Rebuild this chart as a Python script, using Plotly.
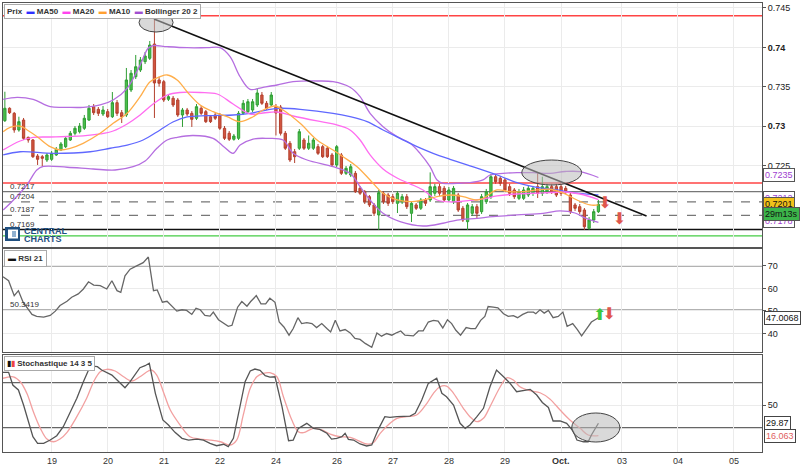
import plotly.graph_objects as go

# ---------------- DATA ----------------
# 2-hour candles, x = candle index
candle_open = [0.73071,0.73228,0.73164,0.72953,0.73079,0.72860,0.72826,0.72623,0.72614,0.72572,
 0.72581,0.72636,0.72699,0.72741,0.72826,0.72911,0.72931,0.72974,0.73079,0.73248,
 0.73215,0.73155,0.73185,0.73121,0.73299,0.73172,0.73143,0.73460,0.73628,0.73713,
 0.73819,0.73862,0.74043,0.73587,0.73565,0.73342,0.73355,0.73333,0.73143,0.73206,
 0.73164,0.73101,0.73228,0.73185,0.73121,0.73143,0.73143,0.72974,0.72911,0.72835,
 0.72847,0.73164,0.73185,0.73206,0.73270,0.73396,0.73291,0.73270,0.73248,0.73244,
 0.72911,0.72784,0.72677,0.72721,0.72826,0.72721,0.72721,0.72741,0.72741,0.72721,
 0.72636,0.72509,0.72636,0.72403,0.72382,0.72403,0.72213,0.72170,0.72107,0.72002,
 0.71875,0.72150,0.72128,0.72107,0.72023,0.72043,0.72107,0.71896,0.72002,0.71960,
 0.72065,0.72065,0.72150,0.72234,0.72213,0.72065,0.72043,0.72128,0.71960,0.71790,
 0.71896,0.71980,0.71917,0.72043,0.72107,0.72360,0.72340,0.72319,0.72234,0.72192,
 0.72086,0.72086,0.72128,0.72150,0.72234,0.72150,0.72170,0.72234,0.72234,0.72234,
 0.72213,0.72128,0.72002,0.71980,0.71938,0.71706,0.71811,0.71917]
candle_high = [0.73438,0.73240,0.73181,0.73121,0.73105,0.72868,0.72838,0.72648,0.72636,0.72661,
 0.72686,0.72737,0.72800,0.72876,0.72940,0.73003,0.73041,0.73143,0.73270,0.73282,
 0.73244,0.73257,0.73219,0.73434,0.73333,0.73206,0.73739,0.73713,0.73904,0.73878,
 0.73942,0.74081,0.74373,0.73628,0.73587,0.73409,0.73384,0.73358,0.73232,0.73232,
 0.73193,0.73282,0.73257,0.73206,0.73143,0.73168,0.73168,0.73003,0.72940,0.72902,
 0.73193,0.73333,0.73346,0.73346,0.73485,0.73434,0.73320,0.73434,0.73282,0.73270,
 0.72940,0.72813,0.72712,0.72965,0.72851,0.72883,0.72851,0.72775,0.72762,0.72750,
 0.72661,0.72762,0.72661,0.72496,0.72521,0.72433,0.72243,0.72192,0.72128,0.72027,
 0.72192,0.72179,0.72154,0.72141,0.72179,0.72141,0.72141,0.72052,0.72027,0.72090,
 0.72090,0.72415,0.72270,0.72270,0.72243,0.72230,0.72243,0.72154,0.71989,0.72027,
 0.72014,0.72014,0.72141,0.72205,0.72395,0.72395,0.72369,0.72344,0.72270,0.72217,
 0.72205,0.72230,0.72243,0.72243,0.72420,0.72360,0.72270,0.72270,0.72270,0.72270,
 0.72243,0.72166,0.72027,0.72014,0.71963,0.71849,0.71951,0.72065]
candle_low = [0.73054,0.73155,0.72918,0.72931,0.72826,0.72792,0.72597,0.72509,0.72487,0.72547,
 0.72560,0.72623,0.72686,0.72724,0.72813,0.72883,0.72909,0.72953,0.73067,0.73143,
 0.73130,0.73130,0.73105,0.73105,0.73130,0.73041,0.73118,0.73434,0.73599,0.73688,
 0.73789,0.73840,0.73105,0.73502,0.73308,0.73320,0.73244,0.73118,0.72991,0.73130,
 0.72991,0.73079,0.73143,0.73041,0.73041,0.73079,0.72953,0.72826,0.72813,0.72817,
 0.72826,0.73143,0.73168,0.73181,0.73244,0.73270,0.73206,0.73244,0.72883,0.72883,
 0.72699,0.72547,0.72534,0.72699,0.72699,0.72699,0.72699,0.72636,0.72597,0.72597,
 0.72483,0.72483,0.72382,0.72382,0.72357,0.72154,0.72128,0.72014,0.71976,0.71862,
 0.71685,0.72014,0.71989,0.72014,0.71900,0.72014,0.71951,0.71786,0.71938,0.71938,
 0.71989,0.72040,0.72116,0.72116,0.72040,0.72040,0.72014,0.71913,0.71786,0.71685,
 0.71862,0.71837,0.71888,0.72014,0.72078,0.72270,0.72243,0.72166,0.72116,0.72078,
 0.72065,0.72065,0.72103,0.72116,0.72090,0.72116,0.72141,0.72141,0.72103,0.72116,
 0.72141,0.71888,0.71926,0.71888,0.71685,0.71685,0.71773,0.71900]
candle_close = [0.73228,0.73172,0.72953,0.73058,0.72847,0.72826,0.72614,0.72581,0.72594,0.72636,
 0.72657,0.72708,0.72775,0.72847,0.72911,0.72974,0.73003,0.73101,0.73228,0.73172,
 0.73164,0.73206,0.73121,0.73299,0.73164,0.73121,0.73587,0.73672,0.73755,0.73840,
 0.73891,0.74030,0.73549,0.73545,0.73333,0.73375,0.73270,0.73143,0.73206,0.73155,
 0.73088,0.73248,0.73164,0.73058,0.73058,0.73101,0.72974,0.72847,0.72835,0.72876,
 0.73164,0.73291,0.73311,0.73311,0.73422,0.73291,0.73228,0.73396,0.73168,0.72911,
 0.72721,0.72572,0.72614,0.72931,0.72721,0.72784,0.72826,0.72657,0.72614,0.72614,
 0.72509,0.72741,0.72403,0.72467,0.72487,0.72170,0.72150,0.72043,0.72002,0.71896,
 0.72158,0.72043,0.72023,0.72043,0.72150,0.72107,0.71980,0.72023,0.71960,0.72065,
 0.72023,0.72234,0.72234,0.72150,0.72065,0.72192,0.72213,0.71938,0.71811,0.72002,
 0.71980,0.71896,0.72107,0.72170,0.72360,0.72297,0.72277,0.72192,0.72150,0.72107,
 0.72170,0.72192,0.72213,0.72213,0.72150,0.72234,0.72234,0.72170,0.72128,0.72150,
 0.72170,0.71917,0.71960,0.71917,0.71726,0.71811,0.71917,0.72010]
candle_x = list(range(len(candle_open)))

ma50_x = [-0.36,3.27,10.33,18.25,22.52,26.16,29.58,33.22,35.95,38.99,43.27,48.83,52.47,56.75,58.89,
          63.17,70.22,73.86,77.50,80.92,84.56,88.19,91.62,95.25,98.89,102.31,105.95,109.58,113.00,118.14,121.99,127]
ma50_y = [0.72636,0.72677,0.72657,0.72677,0.72721,0.72762,0.72826,0.72953,0.73054,0.73118,0.73134,0.73143,0.73164,0.73215,0.73228,
          0.73215,0.73164,0.73121,0.73058,0.72953,0.72847,0.72741,0.72657,0.72581,0.72509,0.72445,0.72369,0.72284,0.72234,0.72192,0.72154,0.72128]

ma20_x = [-0.36,3.27,6.05,9.69,13.33,16.75,20.39,23.17,26.16,28.94,31.72,34.72,37.49,41.78,45.41,48.83,52.47,55.25,58.24,61.67,
          66.80,70.22,73.86,76.00,78.14,80.92,83.92,86.70,89.48,92.47,95.25,99.53,102.31,105.30,109.58,115.15,119.85,123.06,127]
ma20_y = [0.72699,0.72813,0.72858,0.72864,0.72870,0.72877,0.72902,0.72940,0.73029,0.73143,0.73282,0.73396,0.73428,0.73428,0.73409,0.73282,0.73155,0.73168,0.73181,0.73130,
          0.73067,0.73029,0.72953,0.72826,0.72636,0.72458,0.72344,0.72270,0.72192,0.72065,0.72040,0.72059,0.72078,0.72116,0.72141,0.72154,0.72166,0.72141,0.72071]

ma10_x = [-0.36,1.13,3.27,4.77,6.91,9.69,11.83,13.97,16.75,20.39,23.17,26.16,28.94,31.08,33.22,34.72,36.86,38.99,41.78,44.56,
          47.55,50.33,53.11,55.25,57.82,59.53,63.17,66.80,70.22,72.36,75.36,78.14,80.92,83.92,86.70,89.48,92.47,95.25,98.03,101.03,
          102.31,105.30,108.08,110.87,113.86,116.64,119.42,122.42,125.20,127]
ma10_y = [0.72931,0.72987,0.73003,0.72953,0.72868,0.72741,0.72699,0.72721,0.72784,0.72911,0.73037,0.73164,0.73375,0.73565,0.73628,0.73650,0.73587,0.73438,0.73270,0.73185,
          0.73121,0.73058,0.73121,0.73206,0.73257,0.73206,0.73037,0.72826,0.72699,0.72614,0.72487,0.72319,0.72150,0.72065,0.72043,0.72065,0.72107,0.72128,0.72107,0.72065,
          0.72086,0.72192,0.72170,0.72170,0.72192,0.72201,0.72154,0.72065,0.72002,0.72002]

boll_up_x = [-0.36,2.63,6.05,9.69,13.33,16.75,20.39,23.17,26.16,28.94,30.65,31.72,34.72,38.99,43.27,46.05,48.19,50.33,52.47,55.25,
             58.24,61.67,66.80,70.22,73.86,76.00,78.14,80.92,83.92,86.70,88.83,90.97,92.47,93.75,96.75,99.53,102.31,103.81,106.59,109.58,
             113.00,116.64,119.85,123.06,127]
boll_up_y = [0.73342,0.73367,0.73342,0.73248,0.73240,0.73240,0.73270,0.73333,0.73481,0.73777,0.73989,0.74022,0.74009,0.73996,0.73996,0.73996,0.73882,0.73628,0.73469,0.73494,
             0.73523,0.73565,0.73574,0.73565,0.73494,0.73375,0.73164,0.72995,0.72868,0.72784,0.72657,0.72487,0.72319,0.72277,0.72277,0.72284,0.72319,0.72382,0.72403,0.72411,
             0.72411,0.72403,0.72426,0.72424,0.72350]
boll_lo_x = [-0.36,1.84,4.71,6.84,8.26,13.33,18.89,23.59,27.44,30.01,32.58,34.72,36.86,40.28,44.56,46.91,48.83,50.33,53.11,56.11,
             59.53,61.67,64.66,70.22,73.86,76.00,78.14,80.92,84.56,89.48,93.75,96.75,101.03,104.45,109.58,115.15,118.78,121.99,124.13,127]
boll_lo_y = [0.71938,0.72065,0.72255,0.72445,0.72490,0.72480,0.72458,0.72445,0.72487,0.72560,0.72724,0.72826,0.72860,0.72883,0.72847,0.72737,0.72657,0.72762,0.72838,0.72847,
             0.72826,0.72657,0.72572,0.72487,0.72403,0.72234,0.72065,0.71896,0.71790,0.71735,0.71770,0.71811,0.71833,0.71853,0.71875,0.71896,0.71926,0.71900,0.71837,0.71780]

rsi_x = [-0.4,0.8,2.0,2.9,3.9,4.7,5.8,6.8,8.3,9.7, 10.8,11.8,13.3,14.3,15.7,16.8,17.9,19.0,20.4,21.8,
         22.9,24.0,24.8,25.7,26.8,28.2,29.6,30.7,31.8,32.6, 33.7,34.7,35.7,36.8,37.9,38.9,40.0,40.9,41.8,42.8,
         43.9,44.6,45.7,46.9,47.8,48.6,49.8,50.7,51.8,52.6, 53.8,54.8,55.8,56.7,57.8,58.7,59.7,60.8,61.7,62.7,
         63.5,64.6,65.7,66.7,67.8,68.9,69.7,70.7,71.7,72.8, 73.9,74.9,76.0,77.1,78.5,79.6,80.6,81.7,82.8,83.9,
         84.7,85.6,87.4,88.5,89.5,90.6,91.7,92.7,93.7,94.7, 95.6,96.5,97.5,98.7,99.7,100.7,101.8,102.7,103.4,104.5,
         105.5,106.7,107.7,108.8,109.7,110.8,111.9,113.1,113.6,114.5, 115.4,116.3,117.3,118.4,119.4,120.3,121.5,122.5,123.4,124.5,
         125.5,127]
rsi_v = [65.17,63.41,56.82,59.02,53.88,51.69,48.48,47.60,47.29,48.04, 49.93,52.43,54.32,56.08,57.57,59.77,62.97,61.52,61.22,59.77,
         63.41,59.02,58.27,65.61,68.55,70.00,71.45,73.95,59.02,59.33, 53.88,54.32,52.43,49.93,50.54,50.24,48.48,51.25,50.54,48.04,
         47.73,49.49,46.15,44.40,43.21,43.65,51.69,54.19,52.13,54.19, 56.82,53.18,53.18,55.64,53.88,45.10,42.90,39.26,42.20,47.03,
         44.40,44.84,44.40,42.64,44.40,42.20,40.71,45.85,41.15,41.76, 40.27,37.81,37.37,35.61,33.86,40.27,38.82,40.00,39.26,40.44,
         41.15,39.26,38.95,41.15,41.15,45.10,45.85,45.54,42.46,46.15, 44.40,41.45,39.26,42.64,42.20,42.20,45.85,47.60,51.99,51.69,
         51.42,48.79,47.60,47.91,47.03,48.48,49.49,49.49,48.79,50.54, 49.05,50.24,47.03,47.60,49.49,43.21,44.40,41.76,38.95,42.20,
         45.10,47.0068]

stk_x = [-0.4,0.8,1.7,2.9,4.0,5.0,6.0,7.0,8.3,9.7, 11.1,12.5,14.0,15.4,16.8,17.9,18.8,19.8,20.7,21.8,
         22.9,24.0,25.7,26.8,27.9,28.9,30.0,30.9,32.2,33.8, 35.0,36.4,37.9,39.3,41.1,42.5,43.9,45.3,46.8,47.8,
         48.9,50.0,51.4,52.5,53.5,54.6,55.7,56.7,57.8,59.3, 60.7,61.7,62.8,64.6,66.0,67.4,68.9,69.9,71.0,72.1,
         72.8,73.5,74.6,76.0,77.4,78.5,79.9,81.3,82.4,83.9, 85.3,86.7,87.8,89.2,90.6,92.4,93.5,94.5,96.0,97.4,
         98.5,99.5,101.0,102.4,103.8,105.2,106.7,108.1,109.5,110.9, 112.4,113.8,115.0,116.3,117.3,118.8,120.2,121.6,122.4,123.8,
         124.8,125.5,127]
stk_k = [86.5,86.5,72.4,66.9,50.2,33.5,14.9,7.6,7.6,11.2, 16.0,26.0,42.7,57.6,76.1,89.1,93.5,92.8,89.1,86.1,
         83.5,78.0,69.4,76.1,84.3,91.7,93.9,96.6,63.2,33.5, 27.9,19.8,13.1,11.2,12.3,11.2,7.6,4.9,6.5,3.8,
         13.1,42.7,76.1,88.0,90.2,88.8,82.8,81.3,81.6,48.3, 10.5,11.2,24.2,29.8,24.2,23.1,18.7,12.3,13.1,14.9,
         18.7,12.0,11.2,6.8,4.6,5.7,23.1,37.2,36.5,37.2, 37.9,37.9,40.9,55.7,74.3,79.9,63.2,59.4,50.2,29.8,
         24.2,27.9,37.2,46.5,70.5,89.1,81.6,74.3,65.0,66.1, 67.6,61.3,53.0,47.5,32.4,32.4,29.8,21.2,11.2,9.3,
         9.3,16.8,29.87]
std_x = [-0.4,1.8,3.3,4.7,6.1,7.6,9.0,10.4,11.8,13.3, 15.4,17.5,19.0,20.4,21.8,23.6,25.4,27.2,28.9,30.7,
         31.4,32.5,33.9,35.4,37.5,39.6,41.8,43.9,46.1,48.2, 49.6,51.0,52.5,53.9,55.3,56.7,58.2,59.6,61.4,62.8,
         63.9,66.0,67.8,69.6,71.7,73.9,75.6,77.4,78.8,80.3, 82.4,83.9,86.0,88.1,90.3,91.7,93.1,94.5,96.0,98.1,
         99.5,101.0,102.4,103.8,106.0,107.4,108.8,110.2,112.4,114.5, 116.6,118.8,120.9,123.1,124.8,127]
std_d = [79.9,81.6,76.1,63.2,42.7,24.2,12.3,9.3,12.3,19.8, 37.2,57.6,76.1,87.2,89.9,88.0,81.6,76.9,81.6,88.0,
         89.1,83.5,65.0,44.6,27.9,14.9,12.3,11.2,9.3,5.7, 11.2,39.0,68.7,81.6,85.4,86.1,81.6,59.4,33.5,20.5,
         19.4,24.2,22.4,17.9,14.9,14.2,10.5,6.8,8.2,18.7, 29.8,35.4,37.2,39.0,52.1,63.2,70.5,71.3,63.2,46.5,
         37.2,31.6,35.4,48.3,70.5,80.5,78.0,70.5,66.1,63.8, 57.0,44.6,33.5,24.2,16.8,16.063]

# x-axis labels (candle-index positions of each day)
day_tickvals = [10, 22, 34, 46, 58, 71, 83, 95, 107, 119, 132, 144, 156]
day_ticktext = ["19", "20", "21", "22", "24", "26", "27", "28", "29", "<b>Oct.</b>", "03", "04", "05"]

price_ticks = [0.745, 0.74, 0.735, 0.73, 0.725]
price_ticktext = ["0.745", "<b>0.74</b>", "0.735", "<b>0.73</b>", "0.725"]

# horizontal levels on price panel
level_values = [0.74402, 0.72281, 0.7217, 0.7204, 0.7187, 0.7169, 0.7161]
level_labels = ["", "", "0.7217", "0.7204", "0.7187", "0.7169", ""]
rsi_levels = [70, 50.3419]
stoch_levels = [75, 25]

# trend line
trend_x = [31.9, 137.3]
trend_y = [0.74360, 0.71862]

# signal arrows (centres)
down_arrow_x = [128.4, 131.5]
down_arrow_y = [0.72020, 0.71815]
rsi_up_x, rsi_up_y = [127.3], [47.8]
rsi_dn_x, rsi_dn_y = [129.3], [48.0]

# highlight ellipses (x0, x1, y0, y1)
ellipse_main = [(28.7, 36.0, 0.74195, 0.74436), (110.6, 123.4, 0.72255, 0.72572)]
ellipse_stoch = [(121.3, 131.6, 9.0, 41.3)]

last_labels_main = [("0.7235", 0.72378, "#a040d0", "white"),
                    ("0.7212", 0.72092, "#a040d0", "white"),
                    ("0.7178", 0.71800, "#a040d0", "white"),
                    ("0.7201", 0.72020, "#111111", "#f2c21b"),
                    ("29m13s", 0.71890, "#111111", "#3cb54a")]

# ---------------- FIGURE ----------------
FONT = "Liberation Sans, Arial, sans-serif"
fig = go.Figure()

line_w = 1.3
fig.add_trace(go.Scatter(x=boll_up_x, y=boll_up_y, mode="lines", line=dict(color="#b56ee0", width=line_w, shape="spline"), xaxis="x", yaxis="y"))
fig.add_trace(go.Scatter(x=boll_lo_x, y=boll_lo_y, mode="lines", line=dict(color="#b56ee0", width=line_w, shape="spline"), xaxis="x", yaxis="y"))
fig.add_trace(go.Scatter(x=ma50_x, y=ma50_y, mode="lines", line=dict(color="#6068ff", width=line_w, shape="spline"), xaxis="x", yaxis="y"))
fig.add_trace(go.Scatter(x=ma20_x, y=ma20_y, mode="lines", line=dict(color="#ff6cf0", width=line_w, shape="spline"), xaxis="x", yaxis="y"))
fig.add_trace(go.Scatter(x=ma10_x, y=ma10_y, mode="lines", line=dict(color="#ffae4a", width=line_w, shape="spline"), xaxis="x", yaxis="y"))

fig.add_trace(go.Candlestick(
    x=candle_x, open=candle_open, high=candle_high, low=candle_low, close=candle_close,
    increasing=dict(line=dict(color="#2f9e34", width=1), fillcolor="#4cc04c"),
    decreasing=dict(line=dict(color="#b4402e", width=1), fillcolor="#d2553f"),
    xaxis="x", yaxis="y"))

fig.add_trace(go.Scatter(x=trend_x, y=trend_y, mode="lines", line=dict(color="#111111", width=1.6), xaxis="x", yaxis="y"))

ARROW_FONT = "DejaVu Sans"
fig.add_trace(go.Scatter(x=down_arrow_x, y=down_arrow_y, mode="text", text=["⬇"] * len(down_arrow_x),
                         textposition="middle center", textfont=dict(family=ARROW_FONT, size=16, color="#e0564c"),
                         xaxis="x", yaxis="y"))

# RSI
fig.add_trace(go.Scatter(x=rsi_x, y=rsi_v, mode="lines", line=dict(color="#666666", width=1.3), xaxis="x2", yaxis="y2"))
fig.add_trace(go.Scatter(x=rsi_up_x, y=rsi_up_y, mode="text", text=["⬆"], textposition="middle center",
                         textfont=dict(family=ARROW_FONT, size=16, color="#3cc93c"), xaxis="x2", yaxis="y2"))
fig.add_trace(go.Scatter(x=rsi_dn_x, y=rsi_dn_y, mode="text", text=["⬇"], textposition="middle center",
                         textfont=dict(family=ARROW_FONT, size=16, color="#e0564c"), xaxis="x2", yaxis="y2"))

# Stochastic
fig.add_trace(go.Scatter(x=std_x, y=std_d, mode="lines", line=dict(color="#f2a0a0", width=1.3, shape="spline"), xaxis="x3", yaxis="y3"))
fig.add_trace(go.Scatter(x=stk_x, y=stk_k, mode="lines", line=dict(color="#555555", width=1.3), xaxis="x3", yaxis="y3"))

shapes = []
level_colors = ["#ff4444", "#ff4444", "#777777", "#777777", "#777777", "#111111", "#44cc44"]
level_dash = ["solid", "solid", "solid", "dash", "dash", "solid", "solid"]
level_width = [1.5, 1.5, 1.2, 1.3, 1.3, 1.4, 1.4]
for v, c, d, w in zip(level_values, level_colors, level_dash, level_width):
    shapes.append(dict(type="line", xref="x domain", yref="y", x0=0, x1=1, y0=v, y1=v,
                       line=dict(color=c, width=w, dash=d), layer="below"))
for v in rsi_levels:
    shapes.append(dict(type="line", xref="x2 domain", yref="y2", x0=0, x1=1, y0=v, y1=v,
                       line=dict(color="#666666", width=1.3), layer="below"))
for v in stoch_levels:
    shapes.append(dict(type="line", xref="x3 domain", yref="y3", x0=0, x1=1, y0=v, y1=v,
                       line=dict(color="#666666", width=1.3), layer="below"))
for (x0, x1, y0, y1) in ellipse_main:
    shapes.append(dict(type="circle", xref="x", yref="y", x0=x0, x1=x1, y0=y0, y1=y1,
                       fillcolor="rgba(185,185,185,0.55)", line=dict(color="#444444", width=1), layer="above"))
for (x0, x1, y0, y1) in ellipse_stoch:
    shapes.append(dict(type="circle", xref="x3", yref="y3", x0=x0, x1=x1, y0=y0, y1=y1,
                       fillcolor="rgba(185,185,185,0.55)", line=dict(color="#444444", width=1), layer="above"))
# logo icon
shapes.append(dict(type="rect", xref="paper", yref="paper", x0=0.0026, x1=0.0224, y0=0.4699, y1=0.5011,
                   fillcolor="#1f4f80", line=dict(width=0)))
shapes.append(dict(type="rect", xref="paper", yref="paper", x0=0.0066, x1=0.0198, y0=0.4755, y1=0.4955,
                   fillcolor="white", line=dict(width=0)))
shapes.append(dict(type="rect", xref="paper", yref="paper", x0=0.0119, x1=0.0171, y0=0.4788, y1=0.4922,
                   fillcolor="#8fb0d0", line=dict(width=0)))

ann = []
for v, t in zip(level_values, level_labels):
    if t:
        ann.append(dict(text=t, xref="paper", yref="y", x=0.006, y=v, xanchor="left", yanchor="bottom",
                        showarrow=False, font=dict(size=8, color="#333333", family=FONT), yshift=-1))
ann.append(dict(text="50.3419", xref="paper", yref="y2", x=0.006, y=rsi_levels[1], xanchor="left", yanchor="bottom",
                showarrow=False, font=dict(size=8, color="#333333", family=FONT), yshift=-1))

legend_main = ("<b>Prix</b>  <span style='color:#3030ff'>▬</span> <b>MA50</b>  "
               "<span style='color:#ff44ee'>▬</span> <b>MA20</b>  "
               "<span style='color:#ffa030'>▬</span> <b>MA10</b>  "
               "<span style='color:#a050d0'>▬</span> <b>Bollinger 20 2</b>")
ann.append(dict(text=legend_main, xref="paper", yref="paper", x=0.0, y=1.0, xanchor="left", yanchor="top",
                xshift=1, yshift=-1,
                showarrow=False, bgcolor="white", bordercolor="#aaaaaa", borderwidth=1, borderpad=2,
                font=dict(size=8, color="#333333", family=FONT)))
ann.append(dict(text="<span style='color:#111'>▬</span> <b>RSI 21</b>", xref="paper", yref="paper", x=0.0, y=0.4521,
                xanchor="left", yanchor="top", xshift=1, yshift=-1, showarrow=False, bgcolor="white", bordercolor="#aaaaaa",
                borderwidth=1, borderpad=3, font=dict(size=8, color="#333333", family=FONT)))
ann.append(dict(text="<span style='color:#111'>▮</span><span style='color:#e44'>▮</span> <b>Stochastique 14 3 5</b>",
                xref="paper", yref="paper", x=0.0, y=0.216, xanchor="left", yanchor="top", xshift=1, yshift=-1,
                showarrow=False, bgcolor="white", bordercolor="#aaaaaa", borderwidth=1, borderpad=2,
                font=dict(size=8, color="#333333", family=FONT)))
ann.append(dict(text="<b>CENTRAL</b>", xref="paper", yref="paper", x=0.025, y=0.4922,
                xanchor="left", yanchor="middle", showarrow=False,
                font=dict(size=9, color="#1f4f80", family=FONT)))
ann.append(dict(text="<b>CHARTS</b>", xref="paper", yref="paper", x=0.025, y=0.4755,
                xanchor="left", yanchor="middle", showarrow=False,
                font=dict(size=9, color="#1f4f80", family=FONT)))

for t, v, fc, bg in last_labels_main:
    ann.append(dict(text=t, xref="paper", yref="y", x=1.0, y=v, xanchor="left", yanchor="middle", xshift=1,
                    showarrow=False, bgcolor=bg, bordercolor="#555555", borderwidth=1, borderpad=1,
                    font=dict(size=9, color=fc, family=FONT)))
ann.append(dict(text="47.0068", xref="paper", yref="y2", x=1.0, y=rsi_v[-1], xanchor="left", yanchor="middle", xshift=2,
                showarrow=False, bgcolor="white", bordercolor="#444444", borderwidth=1, borderpad=1,
                font=dict(size=9, color="#111111", family=FONT)))
ann.append(dict(text="29.87", xref="paper", yref="y3", x=1.0, y=stk_k[-1], xanchor="left", yanchor="middle", xshift=2,
                showarrow=False, bgcolor="white", bordercolor="#444444", borderwidth=1, borderpad=1,
                font=dict(size=9, color="#111111", family=FONT)))
ann.append(dict(text="16.063", xref="paper", yref="y3", x=1.0, y=std_d[-1], xanchor="left", yanchor="middle", xshift=2,
                showarrow=False, bgcolor="white", bordercolor="#444444", borderwidth=1, borderpad=1,
                font=dict(size=9, color="#e06060", family=FONT)))
# bottom day labels
for tv, tt in zip(day_tickvals, day_ticktext):
    ann.append(dict(text=tt, xref="x3", yref="paper", x=tv, y=0, xanchor="center", yanchor="top", yshift=-2,
                    showarrow=False, font=dict(size=9, color="#333333", family=FONT)))

xcommon = dict(range=[-0.4, 162], tickvals=day_tickvals, ticktext=day_ticktext, showgrid=True,
               gridcolor="#ebebeb", gridwidth=1, zeroline=False, showline=True, mirror=True,
               linecolor="#555555", linewidth=1, ticks="", showticklabels=False,
               tickfont=dict(size=9, color="#333333", family=FONT))
ycommon = dict(side="right", showgrid=True, gridcolor="#ebebeb", zeroline=False, showline=True, mirror=True,
               linecolor="#555555", linewidth=1, ticks="outside", ticklen=3, tickcolor="#555555",
               tickfont=dict(size=9, color="#222222", family=FONT))

fig.update_layout(
    width=806, height=467, margin=dict(l=3, r=44, t=3, b=15),
    paper_bgcolor="white", plot_bgcolor="white", showlegend=False, template="none",
    xaxis=dict(xcommon, anchor="y", domain=[0, 1], rangeslider=dict(visible=False)),
    xaxis2=dict(xcommon, anchor="y2", domain=[0, 1]),
    xaxis3=dict(xcommon, anchor="y3", domain=[0, 1]),
    yaxis=dict(ycommon, anchor="x", domain=[0.4566, 1.0], range=[0.71469, 0.74563],
               tickvals=price_ticks, ticktext=price_ticktext),
    yaxis2=dict(ycommon, anchor="x2", domain=[0.2227, 0.4521], range=[31.8, 77.5], tickvals=[40, 50, 60, 70]),
    yaxis3=dict(ycommon, anchor="x3", domain=[0.0, 0.216], range=[-2.1, 105.8], tickvals=[50]),
    shapes=shapes, annotations=ann,
    font=dict(family=FONT),
)

fig.write_html("out.html", config={"displayModeBar": False},
               post_script="document.body.style.margin='0px';")
